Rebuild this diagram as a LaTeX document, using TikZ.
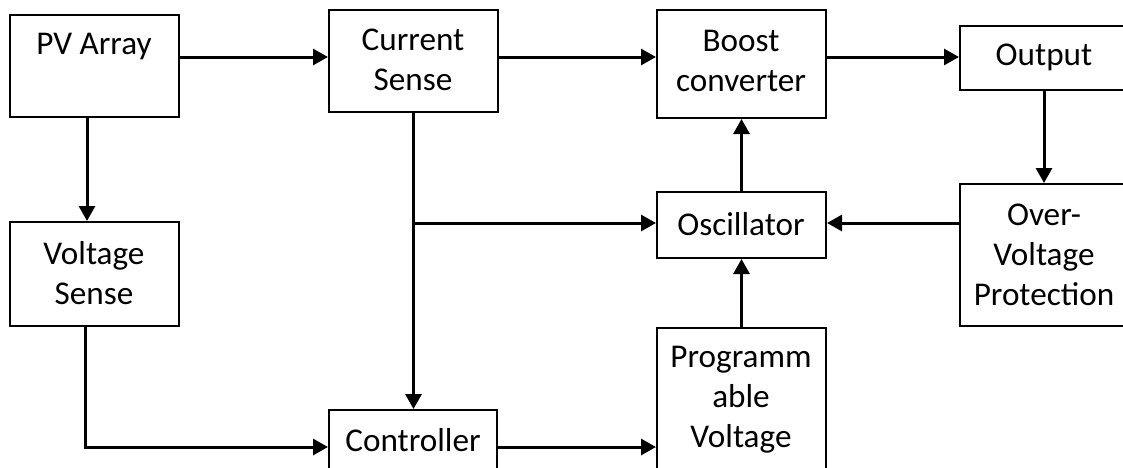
\documentclass[tikz,border=0pt]{standalone}
\usepackage{fontspec}
\setmainfont{Carlito}
\usetikzlibrary{arrows.meta,fit}
\begin{document}
\begin{tikzpicture}[x=0.5pt,y=-0.5pt,
  box/.style={draw=black,line width=1pt,inner sep=0pt,fill=white},
  txt/.style={font=\fontsize{16.6pt}{20pt}\selectfont,align=center,inner sep=0pt,text=black},
  arr/.style={draw=black,line width=1.5pt,-{Triangle[length=7.5pt,width=8pt]}},
  ln/.style={draw=black,line width=1.5pt}]
\useasboundingbox (0,0) rectangle (1123,467);
\clip (0,0) rectangle (1123,467);
\fill[white] (0,0) rectangle (1123,467);
% boxes
\node[box,fit={(10,15) (179,117)}] (pv) {};
\node[box,fit={(329,10) (498,112)}] (cs) {};
\node[box,fit={(657,10) (826,118)}] (bc) {};
\node[box,fit={(960,26) (1128,90)}] (out) {};
\node[box,fit={(960,184) (1128,326)}] (ovp) {};
\node[box,fit={(657,192) (826,258)}] (osc) {};
\node[box,fit={(10,222) (179,326)}] (vs) {};
\node[box,fit={(329,410) (497,520)}] (ctl) {};
\node[box,fit={(657,328) (826,540)}] (pvb) {};
% texts
\node[txt] (pvt) at (94,47) {PV Array};
\node[txt] (cst) at (413,60) {Current\\Sense};
\node[txt] (bct) at (741,61) {Boost\\converter};
\node[txt] (outt) at (1044,57) {Output};
\node[txt] (ovpt) at (1044,255) {Over-\\Voltage\\Protection};
\node[txt] (osct) at (741,224) {Oscillator};
\node[txt] (vst) at (94,273) {Voltage\\Sense};
\node[txt] (ctlt) at (413,440) {Controller};
\node[txt] (pvbt) at (741,400) {Programm\\able\\Voltage};
% connectors
\coordinate (j) at (cs.south |- 0,223);
\draw[arr] (pv.east |- 0,57) -- (cs.west |- 0,57);
\draw[arr] (cs.east |- 0,57) -- (bc.west |- 0,57);
\draw[arr] (bc.east |- 0,57) -- (out.west |- 0,57);
\draw[arr] (out.south) -- (ovp.north);
\draw[arr] (ovp.west |- 0,223) -- (osc.east |- 0,223);
\draw[arr] (osc.north) -- (bc.south);
\draw[arr] (cs.south) -- (cs.south |- ctl.north);
\draw[arr] (j) -- (osc.west |- j);
\draw[arr] (pv.south -| 87,0) -- (vs.north -| 87,0);
\draw[arr] (vs.south -| 85,0) |- (ctl.west |- 0,447);
\draw[arr] (ctl.east |- 0,447) -- (pvb.west |- 0,447);
\draw[arr] (pvb.north) -- (osc.south);
\end{tikzpicture}
\end{document}
